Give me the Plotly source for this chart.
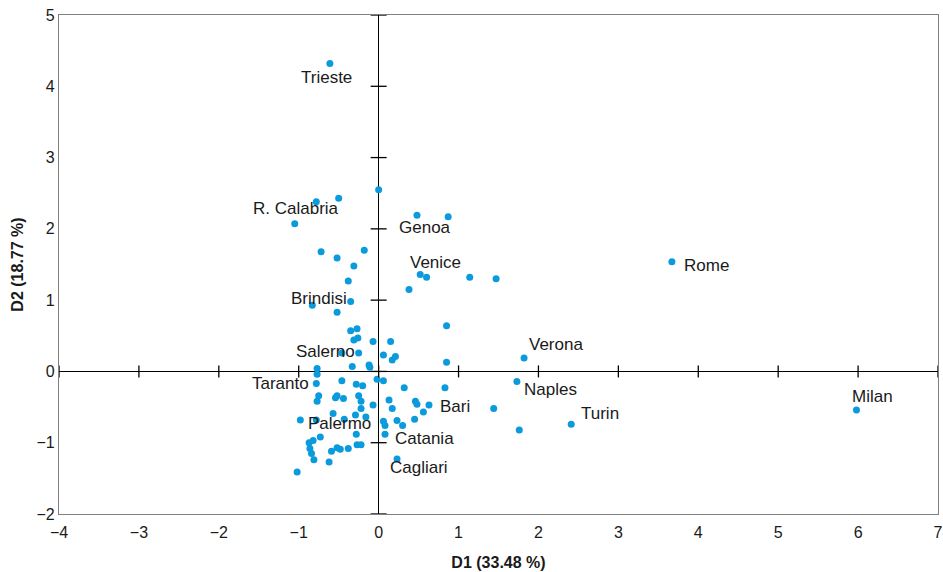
import plotly.graph_objects as go

# Observations (D1, D2)
d1 = [-0.61, 0.00, -0.78, -0.50, -1.05, 0.48, 0.87, -0.72, -0.52, -0.18,
      -0.31, 0.52, 0.60, 1.14, 1.47, 0.38, -0.38, -0.35, -0.83, -0.52,
      0.85, -0.35, -0.27, -0.31, -0.26, -0.07, 0.15, 3.67, 1.82, -0.46,
      -0.25, 0.06, 0.17, 0.21, 0.85, -0.77, -0.77, -0.33, -0.12, -0.11,
      -0.78, -0.46, -0.28, -0.20, -0.02, 0.06, 0.32, 0.83, 1.73, -0.75,
      -0.77, -0.54, -0.52, -0.44, -0.25, -0.22, -0.07, 0.13, 0.17, 0.46,
      0.48, 0.63, 0.56, 0.45, 1.44, -0.22, -0.57, -0.29, -0.43, -0.98,
      -0.78, -0.16, 0.06, 0.08, 0.23, 0.30, -0.28, 0.08, -0.73, -0.82,
      -0.87, -0.86, -0.84, -0.81, -0.59, -0.52, -0.48, -0.38, -0.27, -0.22,
      -0.62, -1.02, 0.23, 2.41, 5.98, 1.76]
d2 = [4.32, 2.55, 2.38, 2.43, 2.07, 2.19, 2.17, 1.68, 1.59, 1.70,
      1.48, 1.36, 1.32, 1.32, 1.30, 1.15, 1.27, 0.98, 0.93, 0.83,
      0.64, 0.57, 0.60, 0.44, 0.47, 0.42, 0.42, 1.54, 0.19, 0.26,
      0.26, 0.23, 0.16, 0.21, 0.13, 0.04, -0.04, 0.07, 0.09, 0.06,
      -0.17, -0.13, -0.18, -0.20, -0.11, -0.13, -0.23, -0.23, -0.14, -0.34,
      -0.42, -0.37, -0.34, -0.38, -0.34, -0.42, -0.47, -0.40, -0.52, -0.42,
      -0.46, -0.47, -0.57, -0.67, -0.52, -0.52, -0.59, -0.61, -0.67, -0.68,
      -0.68, -0.64, -0.70, -0.76, -0.69, -0.76, -0.88, -0.88, -0.92, -0.97,
      -1.00, -1.08, -1.15, -1.24, -1.12, -1.07, -1.09, -1.08, -1.03, -1.03,
      -1.27, -1.41, -1.23, -0.74, -0.54, -0.82]

# Labelled cities: name, index of its point, label offset (px right, px up)
label_names = ["Trieste", "R. Calabria", "Genoa", "Venice", "Rome", "Brindisi",
               "Salerno", "Verona", "Naples", "Taranto", "Bari", "Milan",
               "Turin", "Palermo", "Catania", "Cagliari"]
label_idx = [0, 4, 5, 11, 27, 18, 29, 28, 48, 36, 61, 94, 93, 68, 77, 92]
label_dx = [-3, 1, 8, 15, 35, 7, -16, 32, 34, -37, 26, 16, 29, -5, 39, 22]
label_dy = [-14, 15, -12, 12, -4, 7, 1, 13, -8, -9, -2, 13, 11, -4, -4, -8]

x_ticks = list(range(-4, 8))
y_ticks = list(range(-2, 6))
x_title = "D1 (33.48 %)"
y_title = "D2 (18.77 %)"

FONT = "Liberation Sans, Arial, sans-serif"

fig = go.Figure()
fig.add_trace(go.Scatter(
    x=d1, y=d2, mode="markers",
    marker=dict(color="#0b9bdc", size=7, line=dict(width=0)),
    hoverinfo="x+y", showlegend=False,
))

for name, i, dx, dy in zip(label_names, label_idx, label_dx, label_dy):
    fig.add_annotation(x=d1[i], y=d2[i], text=name, showarrow=False,
                       xanchor="center", yanchor="middle",
                       xshift=dx, yshift=dy,
                       font=dict(family=FONT, size=17, color="#1a1a1a"))

# tick marks crossing the zero lines
for t in x_ticks:
    fig.add_shape(type="line", xref="x", yref="y", x0=t, x1=t,
                  ysizemode="pixel", yanchor=0, y0=-6, y1=6,
                  line=dict(color="black", width=1.3))
for t in y_ticks:
    fig.add_shape(type="line", xref="x", yref="y", y0=t, y1=t,
                  xsizemode="pixel", xanchor=0, x0=-8, x1=8,
                  line=dict(color="black", width=1.3))

fig.update_xaxes(range=[-4, 7], tickvals=x_ticks,
                 ticktext=[str(t).replace("-", "\u2212") for t in x_ticks],
                 showgrid=False, zeroline=True, zerolinecolor="black",
                 zerolinewidth=1.3, showline=True, linecolor="#808080",
                 linewidth=1.3, mirror=True, ticks="", automargin=False,
                 ticklabeloverflow="allow", ticklabelstandoff=4,
                 tickfont=dict(family=FONT, size=16, color="#1a1a1a"),
                 title=dict(text="<b>" + x_title + "</b>", standoff=16,
                            font=dict(family=FONT, size=16, color="#1a1a1a")))
fig.update_yaxes(range=[-2, 5], tickvals=y_ticks,
                 ticktext=[str(t).replace("-", "\u2212") for t in y_ticks],
                 showgrid=False, zeroline=True, zerolinecolor="black",
                 zerolinewidth=1.3, showline=True, linecolor="#808080",
                 linewidth=1.3, mirror=True, ticks="", automargin=False,
                 ticklabeloverflow="allow",
                 tickfont=dict(family=FONT, size=16, color="#1a1a1a"),
                 title=dict(text="<b>" + y_title + "</b>", standoff=8,
                            font=dict(family=FONT, size=16, color="#1a1a1a")))

fig.update_layout(width=943, height=572,
                  margin=dict(l=59, r=5, t=15, b=58, autoexpand=False),
                  plot_bgcolor="white", paper_bgcolor="white")

fig.write_html("out.html",
               config={"displayModeBar": False},
               post_script="document.body.style.margin='0';"
                           "document.body.style.overflow='hidden';")
